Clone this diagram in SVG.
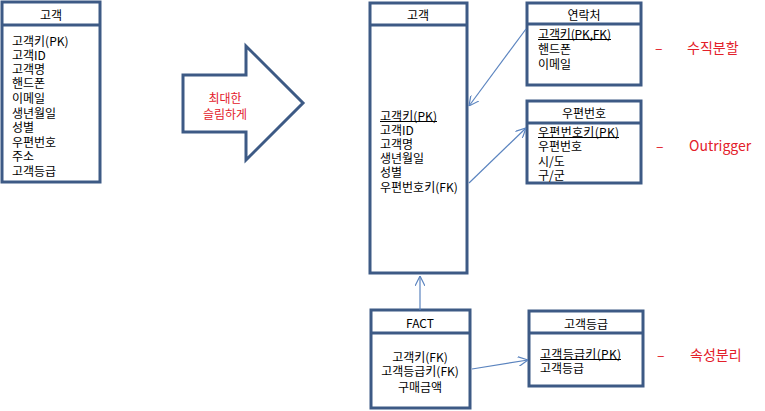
<svg xmlns="http://www.w3.org/2000/svg" width="765" height="411" viewBox="0 0 765 411">
<defs>
<style>
.box{fill:#fff;stroke:#3d5a85;stroke-width:3}
.div{stroke:#3d5a85;stroke-width:3}
.ul{stroke:#000;stroke-width:1}
text{font-family:"Noto Sans CJK KR","Noto Sans",sans-serif;font-size:12px;fill:#000;dominant-baseline:central}
.c{text-anchor:middle}
.red{fill:#e3202a;font-size:14px}
.redm{fill:#e3202a;font-size:12px}
.conn{stroke:#5b84bf;stroke-width:1.2;fill:none;marker-end:url(#ah)}
</style>
<marker id="ah" viewBox="0 0 10 10" refX="10" refY="5" markerWidth="10" markerHeight="10" markerUnits="userSpaceOnUse" orient="auto">
<path d="M0,0 L10,5 L0,10" fill="none" stroke="#5b84bf" stroke-width="1.2"/>
</marker>
</defs>
<rect width="765" height="411" fill="#fff"/>

<g id="customer-src">
<rect class="box" x="2" y="2" width="98" height="180"/>
<line class="div" x1="2" y1="25" x2="100" y2="25"/>
<text class="c" x="51" y="14">고객</text>
<text x="12" y="40">고객키(PK)</text>
<text x="12" y="54">고객ID</text>
<text x="12" y="68">고객명</text>
<text x="12" y="82">핸드폰</text>
<text x="12" y="97">이메일</text>
<text x="12" y="112">생년월일</text>
<text x="12" y="126">성별</text>
<text x="12" y="141">우편번호</text>
<text x="12" y="155">주소</text>
<text x="12" y="170">고객등급</text>
</g>

<g id="slim-arrow">
<path d="M183,75 L246,75 L246,46 L303,103 L246,160 L246,132 L183,132 Z" fill="#fff" stroke="#3d5a85" stroke-width="3"/>
<text class="c redm" x="225" y="97">최대한</text>
<text class="c redm" x="225" y="113">슬림하게</text>
</g>

<g id="customer">
<rect class="box" x="370" y="3" width="97" height="270"/>
<line class="div" x1="370" y1="25" x2="467" y2="25"/>
<text class="c" x="418" y="14">고객</text>
<text x="380" y="115" textLength="57" lengthAdjust="spacing">고객키(PK)</text>
<line class="ul" x1="380" y1="121.5" x2="437" y2="121.5"/>
<text x="380" y="129">고객ID</text>
<text x="380" y="143">고객명</text>
<text x="380" y="157">생년월일</text>
<text x="380" y="171">성별</text>
<text x="380" y="186">우편번호키(FK)</text>
</g>

<g id="contact">
<rect class="box" x="527" y="3" width="114" height="82"/>
<line class="div" x1="527" y1="24" x2="641" y2="24"/>
<text class="c" x="584" y="14">연락처</text>
<text x="538" y="33" textLength="73" lengthAdjust="spacing">고객키(PK,FK)</text>
<line class="ul" x1="538" y1="39.5" x2="611" y2="39.5"/>
<text x="538" y="48">핸드폰</text>
<text x="538" y="63">이메일</text>
</g>

<g id="zipcode">
<rect class="box" x="527" y="101" width="114" height="82"/>
<line class="div" x1="527" y1="123" x2="641" y2="123"/>
<text class="c" x="584" y="112">우편번호</text>
<text x="538" y="131" textLength="81" lengthAdjust="spacing">우편번호키(PK)</text>
<line class="ul" x1="538" y1="137.5" x2="619" y2="137.5"/>
<text x="538" y="145">우편번호</text>
<text x="538" y="160">시/도</text>
<text x="538" y="174">구/군</text>
</g>

<g id="fact">
<rect class="box" x="371" y="310" width="99" height="98"/>
<line class="div" x1="371" y1="333" x2="470" y2="333"/>
<text class="c" x="420" y="322">FACT</text>
<text class="c" x="420" y="356">고객키(FK)</text>
<text class="c" x="420" y="370">고객등급키(FK)</text>
<text class="c" x="420" y="386">구매금액</text>
</g>

<g id="grade">
<rect class="box" x="529" y="311" width="114" height="75"/>
<line class="div" x1="529" y1="333" x2="643" y2="333"/>
<text class="c" x="586" y="323">고객등급</text>
<text x="540" y="353" textLength="81" lengthAdjust="spacing">고객등급키(PK)</text>
<line class="ul" x1="540" y1="359.5" x2="621" y2="359.5"/>
<text x="540" y="367">고객등급</text>
</g>

<g id="labels">
<text class="red" x="655" y="47">–</text>
<text class="red" x="687" y="47">수직분할</text>
<text class="red" x="656" y="145">–</text>
<text class="red" x="689" y="145">Outrigger</text>
<text class="red" x="657" y="354">–</text>
<text class="red" x="690" y="354">속성분리</text>
</g>

<g id="connectors">
<line class="conn" x1="526" y1="29" x2="469" y2="106"/>
<line class="conn" x1="469" y1="183" x2="526" y2="128"/>
<line class="conn" x1="420" y1="310" x2="420" y2="276"/>
<line class="conn" x1="472" y1="369" x2="528" y2="360"/>
</g>
</svg>
